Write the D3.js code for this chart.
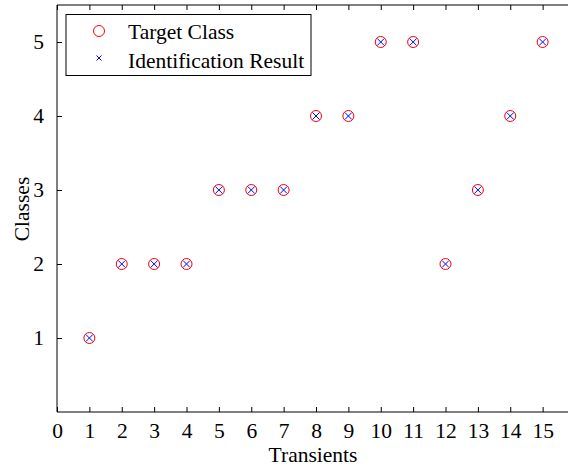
<!DOCTYPE html>
<html><head><meta charset="utf-8">
<script src="https://cdn.jsdelivr.net/npm/d3@7"></script>
<style>body{margin:0;background:#fff}svg{display:block}text{font-family:"Liberation Serif","Times New Roman",serif;}</style>
</head><body><svg id="c" width="568" height="467"></svg>
<script>
const transients = [1,2,3,4,5,6,7,8,9,10,11,12,13,14,15];
const targetClass = [1,2,2,2,3,3,3,4,4,5,5,2,3,4,5];
const identResult = [1,2,2,2,3,3,3,4,4,5,5,2,3,4,5];
const xTicks = [0,1,2,3,4,5,6,7,8,9,10,11,12,13,14,15];
const yTicks = [1,2,3,4,5];

const svg = d3.select("#c");
const L=57, T=5, B=412, R=575;
const x = d3.scaleLinear().domain([0,16]).range([L,R]);
const y = d3.scaleLinear().domain([0,5.5]).range([B,T]);

svg.append("rect").attr("width",568).attr("height",467).attr("fill","#fff");

// frame
svg.append("line").attr("x1",L).attr("x2",R).attr("y1",B).attr("y2",B).attr("stroke","#000");
svg.append("line").attr("x1",L).attr("x2",R).attr("y1",T).attr("y2",T).attr("stroke","#000");
svg.append("line").attr("x1",L).attr("x2",L).attr("y1",T).attr("y2",B).attr("stroke","#000");

const fs = 21.5;
const xa = svg.append("g").attr("transform",`translate(0,${B})`)
  .call(d3.axisBottom(x).tickValues(xTicks).tickSize(-5).tickPadding(11).tickFormat(d3.format("d")));
const xt = svg.append("g").attr("transform",`translate(0,${T})`)
  .call(d3.axisTop(x).tickValues(xTicks).tickSize(-5).tickFormat(""));
const ya = svg.append("g").attr("transform",`translate(${L},0)`)
  .call(d3.axisLeft(y).tickValues(yTicks).tickSize(-5).tickPadding(13).tickFormat(d3.format("d")));
[xa,xt,ya].forEach(g=>{g.select(".domain").remove();g.selectAll("line").attr("stroke","#000");
  g.selectAll("text").attr("font-size",fs).attr("font-family","Liberation Serif").attr("fill","#000");});

svg.append("text").attr("x",313).attr("y",462).attr("text-anchor","middle").attr("font-size",fs).text("Transients");
svg.append("text").attr("transform","translate(29,209) rotate(-90)").attr("text-anchor","middle").attr("font-size",fs).text("Classes");

// markers
svg.append("g").selectAll("circle").data(transients).join("circle")
  .attr("cx",(d)=>x(d)).attr("cy",(d,i)=>y(targetClass[i])).attr("r",5.5)
  .attr("fill","none").attr("stroke","#ff0000").attr("stroke-width",1);
const s=3.5;
svg.append("g").selectAll("path").data(transients).join("path")
  .attr("d",(d,i)=>{const cx=x(d),cy=y(identResult[i]);return `M${cx-s},${cy-s}L${cx+s},${cy+s}M${cx-s},${cy+s}L${cx+s},${cy-s}`;})
  .attr("stroke","#0000ff").attr("stroke-width",1).attr("fill","none");

// legend
const lg = svg.append("g");
lg.append("rect").attr("x",66).attr("y",14.5).attr("width",245).attr("height",61).attr("fill","#fff").attr("stroke","#000");
lg.append("circle").attr("cx",99).attr("cy",31).attr("r",5.5).attr("fill","none").attr("stroke","#ff0000");
lg.append("path").attr("d",`M${99-2.5},${58-2.5}L${99+2.5},${58+2.5}M${99-2.5},${58+2.5}L${99+2.5},${58-2.5}`).attr("stroke","#0000ff");
lg.append("text").attr("x",128).attr("y",38.5).attr("font-size",fs).text("Target Class");
lg.append("text").attr("x",128).attr("y",67.5).attr("font-size",fs).text("Identification Result");
</script></body></html>
